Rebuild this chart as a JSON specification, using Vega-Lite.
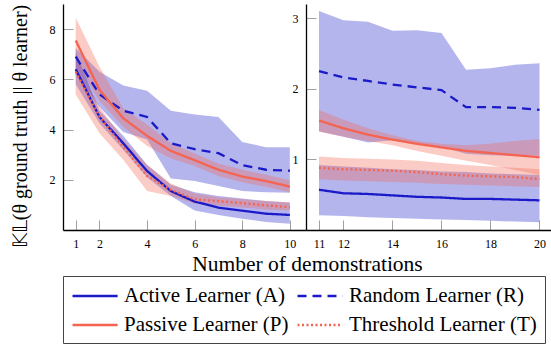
{
  "$schema": "https://vega.github.io/schema/vega-lite/v6.json",
  "padding": {"left": 9, "top": 4, "right": 0, "bottom": 0},
  "autosize": {"type": "pad"},
  "background": "white",
  "spacing": 0,
  "bounds": "flush",
  "config": {
    "font": "serif",
    "view": {"stroke": null},
    "text": {"font": "serif"},
    "legend": {"labelFont": "serif", "titleFont": "serif"},
    "axis": {"domainColor": "black", "domainWidth": 1.3, "tickColor": "#a0a0a0", "tickSize": -10, "tickWidth": 1, "labelPadding": 18, "labelFontSize": 12, "labelColor": "black", "grid": false, "labelFont": "serif", "titleFont": "serif", "titleFontWeight": "normal", "titleColor": "black"}
  },
  "datasets": {
    "d": [
      {"learner": "Active Learner (A)", "panel": "L", "x": 1, "y": 6.4, "lo": 5.8, "hi": 7.1},
      {"learner": "Active Learner (A)", "panel": "L", "x": 2, "y": 4.5, "lo": 4.25, "hi": 4.75},
      {"learner": "Active Learner (A)", "panel": "L", "x": 3, "y": 3.45, "lo": 3.2, "hi": 3.75},
      {"learner": "Active Learner (A)", "panel": "L", "x": 4, "y": 2.35, "lo": 2.1, "hi": 2.6},
      {"learner": "Active Learner (A)", "panel": "L", "x": 5, "y": 1.55, "lo": 1.35, "hi": 1.8},
      {"learner": "Active Learner (A)", "panel": "L", "x": 6, "y": 1.13, "lo": 0.78, "hi": 1.5},
      {"learner": "Active Learner (A)", "panel": "L", "x": 7, "y": 0.89, "lo": 0.6, "hi": 1.35},
      {"learner": "Active Learner (A)", "panel": "L", "x": 8, "y": 0.77, "lo": 0.45, "hi": 1.25},
      {"learner": "Active Learner (A)", "panel": "L", "x": 9, "y": 0.65, "lo": 0.32, "hi": 1.15},
      {"learner": "Active Learner (A)", "panel": "L", "x": 10, "y": 0.6, "lo": 0.25, "hi": 1.1},
      {"learner": "Random Learner (R)", "panel": "L", "x": 1, "y": 6.9, "lo": 6.2, "hi": 7.25},
      {"learner": "Random Learner (R)", "panel": "L", "x": 2, "y": 5.4, "lo": 4.9, "hi": 6.3},
      {"learner": "Random Learner (R)", "panel": "L", "x": 3, "y": 4.75, "lo": 3.9, "hi": 5.75},
      {"learner": "Random Learner (R)", "panel": "L", "x": 4, "y": 4.5, "lo": 3.6, "hi": 5.55},
      {"learner": "Random Learner (R)", "panel": "L", "x": 5, "y": 3.45, "lo": 2.05, "hi": 4.75},
      {"learner": "Random Learner (R)", "panel": "L", "x": 6, "y": 3.22, "lo": 1.95, "hi": 4.6},
      {"learner": "Random Learner (R)", "panel": "L", "x": 7, "y": 3.06, "lo": 1.75, "hi": 4.5},
      {"learner": "Random Learner (R)", "panel": "L", "x": 8, "y": 2.58, "lo": 1.55, "hi": 3.5},
      {"learner": "Random Learner (R)", "panel": "L", "x": 9, "y": 2.4, "lo": 1.5, "hi": 3.3},
      {"learner": "Random Learner (R)", "panel": "L", "x": 10, "y": 2.36, "lo": 1.48, "hi": 3.3},
      {"learner": "Passive Learner (P)", "panel": "L", "x": 1, "y": 7.55, "lo": 6.7, "hi": 8.45},
      {"learner": "Passive Learner (P)", "panel": "L", "x": 2, "y": 5.58, "lo": 5.15, "hi": 6.5},
      {"learner": "Passive Learner (P)", "panel": "L", "x": 3, "y": 4.45, "lo": 4.1, "hi": 4.85},
      {"learner": "Passive Learner (P)", "panel": "L", "x": 4, "y": 3.75, "lo": 3.35, "hi": 4.2},
      {"learner": "Passive Learner (P)", "panel": "L", "x": 5, "y": 3.15, "lo": 2.85, "hi": 3.45},
      {"learner": "Passive Learner (P)", "panel": "L", "x": 6, "y": 2.78, "lo": 2.55, "hi": 3.05},
      {"learner": "Passive Learner (P)", "panel": "L", "x": 7, "y": 2.4, "lo": 2.15, "hi": 2.65},
      {"learner": "Passive Learner (P)", "panel": "L", "x": 8, "y": 2.13, "lo": 1.9, "hi": 2.4},
      {"learner": "Passive Learner (P)", "panel": "L", "x": 9, "y": 1.95, "lo": 1.72, "hi": 2.2},
      {"learner": "Passive Learner (P)", "panel": "L", "x": 10, "y": 1.73, "lo": 1.5, "hi": 1.98},
      {"learner": "Threshold Learner (T)", "panel": "L", "x": 1, "y": 6.3, "lo": 5.4, "hi": 6.7},
      {"learner": "Threshold Learner (T)", "panel": "L", "x": 2, "y": 4.52, "lo": 3.85, "hi": 4.9},
      {"learner": "Threshold Learner (T)", "panel": "L", "x": 3, "y": 3.3, "lo": 2.8, "hi": 3.6},
      {"learner": "Threshold Learner (T)", "panel": "L", "x": 4, "y": 2.15, "lo": 1.55, "hi": 2.6},
      {"learner": "Threshold Learner (T)", "panel": "L", "x": 5, "y": 1.6, "lo": 1.35, "hi": 1.85},
      {"learner": "Threshold Learner (T)", "panel": "L", "x": 6, "y": 1.22, "lo": 1.05, "hi": 1.45},
      {"learner": "Threshold Learner (T)", "panel": "L", "x": 7, "y": 1.15, "lo": 0.98, "hi": 1.3},
      {"learner": "Threshold Learner (T)", "panel": "L", "x": 8, "y": 1.07, "lo": 0.9, "hi": 1.22},
      {"learner": "Threshold Learner (T)", "panel": "L", "x": 9, "y": 0.98, "lo": 0.82, "hi": 1.15},
      {"learner": "Threshold Learner (T)", "panel": "L", "x": 10, "y": 0.91, "lo": 0.78, "hi": 1.1},
      {"learner": "Active Learner (A)", "panel": "R", "x": 11, "y": 0.57, "lo": 0.21, "hi": 0.92},
      {"learner": "Active Learner (A)", "panel": "R", "x": 12, "y": 0.52, "lo": 0.2, "hi": 0.9},
      {"learner": "Active Learner (A)", "panel": "R", "x": 13, "y": 0.51, "lo": 0.18, "hi": 0.88},
      {"learner": "Active Learner (A)", "panel": "R", "x": 14, "y": 0.49, "lo": 0.17, "hi": 0.86},
      {"learner": "Active Learner (A)", "panel": "R", "x": 15, "y": 0.47, "lo": 0.16, "hi": 0.85},
      {"learner": "Active Learner (A)", "panel": "R", "x": 16, "y": 0.46, "lo": 0.15, "hi": 0.83},
      {"learner": "Active Learner (A)", "panel": "R", "x": 17, "y": 0.44, "lo": 0.14, "hi": 0.82},
      {"learner": "Active Learner (A)", "panel": "R", "x": 18, "y": 0.44, "lo": 0.13, "hi": 0.8},
      {"learner": "Active Learner (A)", "panel": "R", "x": 19, "y": 0.43, "lo": 0.12, "hi": 0.79},
      {"learner": "Active Learner (A)", "panel": "R", "x": 20, "y": 0.42, "lo": 0.11, "hi": 0.78},
      {"learner": "Random Learner (R)", "panel": "R", "x": 11, "y": 2.25, "lo": 1.4, "hi": 3.1},
      {"learner": "Random Learner (R)", "panel": "R", "x": 12, "y": 2.16, "lo": 1.32, "hi": 2.97},
      {"learner": "Random Learner (R)", "panel": "R", "x": 13, "y": 2.11, "lo": 1.24, "hi": 2.95},
      {"learner": "Random Learner (R)", "panel": "R", "x": 14, "y": 2.06, "lo": 1.27, "hi": 2.82},
      {"learner": "Random Learner (R)", "panel": "R", "x": 15, "y": 2.02, "lo": 1.22, "hi": 2.83},
      {"learner": "Random Learner (R)", "panel": "R", "x": 16, "y": 1.98, "lo": 1.18, "hi": 2.79},
      {"learner": "Random Learner (R)", "panel": "R", "x": 17, "y": 1.74, "lo": 1.08, "hi": 2.27},
      {"learner": "Random Learner (R)", "panel": "R", "x": 18, "y": 1.74, "lo": 1.06, "hi": 2.29},
      {"learner": "Random Learner (R)", "panel": "R", "x": 19, "y": 1.73, "lo": 1.05, "hi": 2.34},
      {"learner": "Random Learner (R)", "panel": "R", "x": 20, "y": 1.7, "lo": 1.05, "hi": 2.36},
      {"learner": "Passive Learner (P)", "panel": "R", "x": 11, "y": 1.55, "lo": 1.39, "hi": 1.7},
      {"learner": "Passive Learner (P)", "panel": "R", "x": 12, "y": 1.44, "lo": 1.32, "hi": 1.56},
      {"learner": "Passive Learner (P)", "panel": "R", "x": 13, "y": 1.35, "lo": 1.26, "hi": 1.44},
      {"learner": "Passive Learner (P)", "panel": "R", "x": 14, "y": 1.28, "lo": 1.2, "hi": 1.34},
      {"learner": "Passive Learner (P)", "panel": "R", "x": 15, "y": 1.22, "lo": 1.12, "hi": 1.26},
      {"learner": "Passive Learner (P)", "panel": "R", "x": 16, "y": 1.17, "lo": 1.05, "hi": 1.22},
      {"learner": "Passive Learner (P)", "panel": "R", "x": 17, "y": 1.12, "lo": 0.98, "hi": 1.2},
      {"learner": "Passive Learner (P)", "panel": "R", "x": 18, "y": 1.09, "lo": 0.92, "hi": 1.22},
      {"learner": "Passive Learner (P)", "panel": "R", "x": 19, "y": 1.06, "lo": 0.85, "hi": 1.26},
      {"learner": "Passive Learner (P)", "panel": "R", "x": 20, "y": 1.03, "lo": 0.78, "hi": 1.29},
      {"learner": "Threshold Learner (T)", "panel": "R", "x": 11, "y": 0.88, "lo": 0.72, "hi": 1.04},
      {"learner": "Threshold Learner (T)", "panel": "R", "x": 12, "y": 0.86, "lo": 0.7, "hi": 1.02},
      {"learner": "Threshold Learner (T)", "panel": "R", "x": 13, "y": 0.85, "lo": 0.69, "hi": 1.01},
      {"learner": "Threshold Learner (T)", "panel": "R", "x": 14, "y": 0.84, "lo": 0.68, "hi": 1.0},
      {"learner": "Threshold Learner (T)", "panel": "R", "x": 15, "y": 0.82, "lo": 0.67, "hi": 0.98},
      {"learner": "Threshold Learner (T)", "panel": "R", "x": 16, "y": 0.79, "lo": 0.65, "hi": 0.95},
      {"learner": "Threshold Learner (T)", "panel": "R", "x": 17, "y": 0.77, "lo": 0.64, "hi": 0.92},
      {"learner": "Threshold Learner (T)", "panel": "R", "x": 18, "y": 0.76, "lo": 0.63, "hi": 0.9},
      {"learner": "Threshold Learner (T)", "panel": "R", "x": 19, "y": 0.75, "lo": 0.62, "hi": 0.88},
      {"learner": "Threshold Learner (T)", "panel": "R", "x": 20, "y": 0.72, "lo": 0.61, "hi": 0.86}
    ]
  },
  "hconcat": [
    {
      "width": 243,
      "height": 226,
      "data": {"name": "d"},
      "transform": [{"filter": "datum.panel == 'L'"}],
      "encoding": {
        "x": {"field": "x", "type": "quantitative", "scale": {"domain": [0.466, 10.68], "nice": false, "zero": false},
          "axis": {"values": [1, 2, 4, 6, 8, 10], "title": "Number of demonstrations", "titleX": 244, "titleY": 40, "titleBaseline": "alphabetic", "titleFontSize": 21.5, "titleAlign": "center", "titleFont": "serif", "labelFont": "serif"}}
      },
      "layer": [
        {"transform": [{"filter": "datum.learner == 'Random Learner (R)'"}], "mark": {"type": "area", "fill": "#1a1ac8", "opacity": 0.32}, "encoding": {"y": {"field": "lo", "type": "quantitative", "scale": {"domain": [0, 9], "nice": false}, "axis": {"values": [2, 4, 6, 8], "title": "𝕂𝕃(θ ground truth || θ learner)", "titleX": -33, "titleY": 122, "titleFontSize": 20, "titleBaseline": "bottom", "titleAlign": "center", "titleFont": "serif", "labelFont": "serif"}}, "y2": {"field": "hi"}}},
        {"transform": [{"filter": "datum.learner == 'Active Learner (A)'"}], "mark": {"type": "area", "fill": "#1a1ac8", "opacity": 0.32}, "encoding": {"y": {"field": "lo", "type": "quantitative", "scale": {"domain": [0, 9], "nice": false}, "axis": {"values": [2, 4, 6, 8], "title": "𝕂𝕃(θ ground truth || θ learner)", "titleX": -33, "titleY": 122, "titleFontSize": 20, "titleBaseline": "bottom", "titleAlign": "center", "titleFont": "serif", "labelFont": "serif"}}, "y2": {"field": "hi"}}},
        {"transform": [{"filter": "datum.learner == 'Passive Learner (P)'"}], "mark": {"type": "area", "fill": "#f46450", "opacity": 0.33}, "encoding": {"y": {"field": "lo", "type": "quantitative", "scale": {"domain": [0, 9], "nice": false}, "axis": {"values": [2, 4, 6, 8], "title": "𝕂𝕃(θ ground truth || θ learner)", "titleX": -33, "titleY": 122, "titleFontSize": 20, "titleBaseline": "bottom", "titleAlign": "center", "titleFont": "serif", "labelFont": "serif"}}, "y2": {"field": "hi"}}},
        {"transform": [{"filter": "datum.learner == 'Threshold Learner (T)'"}], "mark": {"type": "area", "fill": "#f46450", "opacity": 0.33}, "encoding": {"y": {"field": "lo", "type": "quantitative", "scale": {"domain": [0, 9], "nice": false}, "axis": {"values": [2, 4, 6, 8], "title": "𝕂𝕃(θ ground truth || θ learner)", "titleX": -33, "titleY": 122, "titleFontSize": 20, "titleBaseline": "bottom", "titleAlign": "center", "titleFont": "serif", "labelFont": "serif"}}, "y2": {"field": "hi"}}},
        {
          "mark": {"type": "line", "strokeWidth": 2.3},
          "encoding": {
            "y": {"field": "y", "type": "quantitative", "scale": {"domain": [0, 9], "nice": false},
              "axis": {"values": [2, 4, 6, 8], "title": "𝕂𝕃(θ ground truth || θ learner)", "titleX": -33, "titleY": 122, "titleFontSize": 20, "titleBaseline": "bottom", "titleAlign": "center", "titleFont": "serif", "labelFont": "serif"}},
            "color": {"field": "learner", "type": "nominal",
              "scale": {"domain": ["Active Learner (A)", "Random Learner (R)", "Passive Learner (P)", "Threshold Learner (T)"], "range": ["#1a1ac8", "#1a1ac8", "#f46450", "#f46450"]},
              "legend": {"orient": "none", "legendX": 0, "legendY": 272, "columns": 2, "direction": "horizontal", "title": null, "symbolType": "M-1,0H3.3", "symbolSize": 441, "symbolStrokeWidth": 2.5, "labelFontSize": 21, "labelFont": "serif", "labelOffset": 29, "rowPadding": 7, "columnPadding": 3, "padding": 8, "strokeColor": "#444", "labelLimit": 0, "labelColor": "black"}},
            "strokeDash": {"field": "learner", "type": "nominal",
              "scale": {"domain": ["Active Learner (A)", "Random Learner (R)", "Passive Learner (P)", "Threshold Learner (T)"], "range": [[1, 0], [9, 6], [1, 0], [2, 2.5]]},
              "legend": {"orient": "none", "legendX": 0, "legendY": 272, "columns": 2, "direction": "horizontal", "title": null, "symbolType": "M-1,0H3.3", "symbolSize": 441, "symbolStrokeWidth": 2.5, "labelFontSize": 21, "labelFont": "serif", "labelOffset": 29, "rowPadding": 7, "columnPadding": 3, "padding": 8, "strokeColor": "#444", "labelLimit": 0, "labelColor": "black"}}
          }
        }
      ]
    },
    {
      "width": 245,
      "height": 226,
      "data": {"name": "d"},
      "transform": [{"filter": "datum.panel == 'R'"}],
      "encoding": {
        "x": {"field": "x", "type": "quantitative", "scale": {"domain": [10.47, 20.47], "nice": false, "zero": false},
          "axis": {"values": [11, 12, 14, 16, 18, 20], "title": null, "labelFont": "serif"}}
      },
      "layer": [
        {"transform": [{"filter": "datum.learner == 'Random Learner (R)'"}], "mark": {"type": "area", "fill": "#1a1ac8", "opacity": 0.32}, "encoding": {"y": {"field": "lo", "type": "quantitative", "scale": {"domain": [0, 3.2], "nice": false}, "axis": {"values": [1, 2, 3], "title": null, "labelFont": "serif"}}, "y2": {"field": "hi"}}},
        {"transform": [{"filter": "datum.learner == 'Active Learner (A)'"}], "mark": {"type": "area", "fill": "#1a1ac8", "opacity": 0.32}, "encoding": {"y": {"field": "lo", "type": "quantitative", "scale": {"domain": [0, 3.2], "nice": false}, "axis": {"values": [1, 2, 3], "title": null, "labelFont": "serif"}}, "y2": {"field": "hi"}}},
        {"transform": [{"filter": "datum.learner == 'Passive Learner (P)'"}], "mark": {"type": "area", "fill": "#f46450", "opacity": 0.33}, "encoding": {"y": {"field": "lo", "type": "quantitative", "scale": {"domain": [0, 3.2], "nice": false}, "axis": {"values": [1, 2, 3], "title": null, "labelFont": "serif"}}, "y2": {"field": "hi"}}},
        {"transform": [{"filter": "datum.learner == 'Threshold Learner (T)'"}], "mark": {"type": "area", "fill": "#f46450", "opacity": 0.33}, "encoding": {"y": {"field": "lo", "type": "quantitative", "scale": {"domain": [0, 3.2], "nice": false}, "axis": {"values": [1, 2, 3], "title": null, "labelFont": "serif"}}, "y2": {"field": "hi"}}},
        {
          "mark": {"type": "line", "strokeWidth": 2.3},
          "encoding": {
            "y": {"field": "y", "type": "quantitative", "scale": {"domain": [0, 3.2], "nice": false},
              "axis": {"values": [1, 2, 3], "title": null, "labelFont": "serif"}},
            "color": {"field": "learner", "type": "nominal",
              "scale": {"domain": ["Active Learner (A)", "Random Learner (R)", "Passive Learner (P)", "Threshold Learner (T)"], "range": ["#1a1ac8", "#1a1ac8", "#f46450", "#f46450"]}},
            "strokeDash": {"field": "learner", "type": "nominal",
              "scale": {"domain": ["Active Learner (A)", "Random Learner (R)", "Passive Learner (P)", "Threshold Learner (T)"], "range": [[1, 0], [9, 6], [1, 0], [2, 2.5]]}}
          }
        }
      ]
    }
  ]
}
